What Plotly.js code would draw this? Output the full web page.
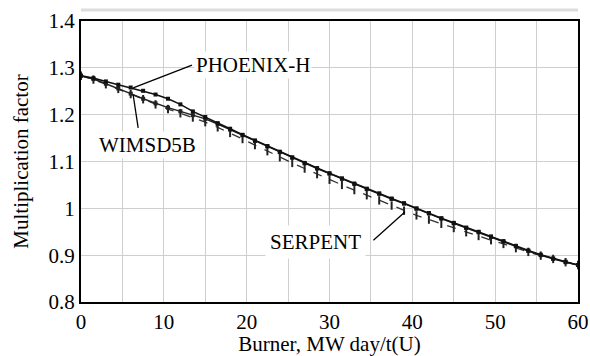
<!DOCTYPE html>
<html><head><meta charset="utf-8">
<script src="https://cdn.plot.ly/plotly-3.0.1.min.js"></script>
<style>html,body{margin:0;padding:0;background:#fff}#chart{width:590px;height:356px}</style>
</head><body><div id="chart"></div>
<script>
const burnup = [0,1.5,3,4.5,6,7.5,9,10.5,12,13.5,15,16.5,18,19.5,21,22.5,24,25.5,27,28.5,30,31.5,33,34.5,36,37.5,39,40.5,42,43.5,45,46.5,48,49.5,51,52.5,54,55.5,57,58.5,60];
const phoenixH = [1.283,1.278,1.271,1.264,1.258,1.251,1.243,1.234,1.222,1.207,1.195,1.182,1.170,1.157,1.145,1.133,1.121,1.109,1.097,1.086,1.075,1.064,1.053,1.042,1.032,1.021,1.011,1.000,0.990,0.979,0.969,0.959,0.950,0.940,0.930,0.920,0.910,0.901,0.893,0.886,0.879];
const wimsd5b = [1.283,1.276,1.266,1.256,1.245,1.234,1.224,1.215,1.207,1.199,1.191,1.180,1.168,1.156,1.144,1.132,1.120,1.108,1.096,1.085,1.074,1.063,1.052,1.041,1.031,1.020,1.010,0.999,0.989,0.978,0.968,0.958,0.949,0.939,0.929,0.919,0.909,0.900,0.892,0.885,0.879];
const serpent = [1.283,1.275,1.265,1.255,1.244,1.233,1.222,1.212,1.203,1.194,1.184,1.173,1.161,1.148,1.135,1.122,1.109,1.097,1.085,1.073,1.061,1.050,1.039,1.028,1.017,1.006,0.995,0.985,0.976,0.967,0.958,0.949,0.941,0.932,0.924,0.915,0.907,0.899,0.892,0.885,0.879];
const labels = ['PHOENIX-H', 'WIMSD5B', 'SERPENT'];

const font = 'Liberation Serif, DejaVu Serif, Times New Roman, serif';
const traces = [
  {x: burnup, y: serpent, name: labels[2], mode: 'lines+markers',
   line: {color: '#333', width: 1.3, dash: 'dash'},
   marker: {symbol: 'line-ns-open', size: 6, color: '#222', line: {width: 2, color: '#222'}}},
  {x: burnup, y: wimsd5b, name: labels[1], mode: 'lines+markers',
   line: {color: '#222', width: 1.5},
   marker: {symbol: 'square', size: 4, color: '#222'}},
  {x: burnup, y: phoenixH, name: labels[0], mode: 'lines+markers',
   line: {color: '#111', width: 1.6},
   marker: {symbol: 'square', size: 4, color: '#111'}}
];
const leader = {color: '#000', width: 1.3};
const layout = {
  width: 590, height: 356,
  margin: {l: 81, r: 12, t: 21, b: 54},
  paper_bgcolor: '#fff', plot_bgcolor: '#fff',
  showlegend: false,
  font: {family: font, color: '#000', size: 21},
  xaxis: {range: [0, 60], dtick: 10, tick0: 0, showgrid: true, gridcolor: '#cfcfcf', gridwidth: 1,
    minor: {dtick: 5, showgrid: true, gridcolor: '#cfcfcf', gridwidth: 1},
    showline: true, linecolor: '#000', linewidth: 2, mirror: true, zeroline: false,
    ticks: '', tickfont: {family: font, size: 21, color: '#000'},
    title: {text: 'Burner, MW day/t(U)', font: {family: font, size: 21, color: '#000'}, standoff: 0}},
  yaxis: {range: [0.8, 1.4], dtick: 0.1, tick0: 0.8, showgrid: true, gridcolor: '#cfcfcf', gridwidth: 1,
    showline: true, linecolor: '#000', linewidth: 2, mirror: true, zeroline: false,
    ticks: '', tickfont: {family: font, size: 21, color: '#000'},
    title: {text: 'Multiplication factor', font: {family: font, size: 21, color: '#000'}, standoff: 14}},
  shapes: [
    {type: 'line', xref: 'paper', yref: 'paper', x0: 0, x1: 1, y0: 1.039, y1: 1.039,
     line: {color: '#dddddd', width: 3}},
    {type: 'line', xref: 'x', yref: 'y', x0: 6.3, y0: 1.257, x1: 13.4, y1: 1.306, line: leader},
    {type: 'line', xref: 'x', yref: 'y', x0: 6.3, y0: 1.242, x1: 6.9, y1: 1.172, line: leader},
    {type: 'line', xref: 'x', yref: 'y', x0: 39.1, y0: 0.992, x1: 35.3, y1: 0.932, line: leader}
  ],
  annotations: [
    {x: 13.6, y: 1.306, xref: 'x', yref: 'y', text: labels[0], showarrow: false,
     xanchor: 'left', yanchor: 'middle', bgcolor: '#fff', borderpad: 1, font: {family: font, size: 21}},
    {x: 7.97, y: 1.135, xref: 'x', yref: 'y', text: labels[1], showarrow: false,
     xanchor: 'center', yanchor: 'middle', bgcolor: '#fff', borderpad: 1, font: {family: font, size: 21}},
    {x: 28.3, y: 0.928, xref: 'x', yref: 'y', text: labels[2], showarrow: false,
     xanchor: 'center', yanchor: 'middle', bgcolor: '#fff', borderpad: 4, font: {family: font, size: 21}}
  ]
};
Plotly.newPlot('chart', traces, layout, {displayModeBar: false, staticPlot: true});
</script></body></html>
